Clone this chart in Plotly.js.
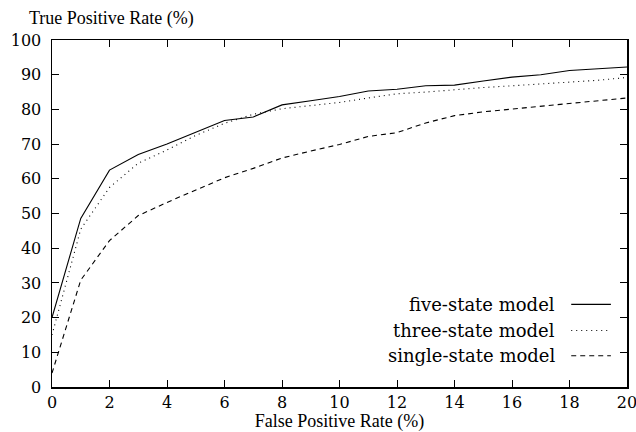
<!DOCTYPE html>
<html>
<head>
<meta charset="utf-8">
<script src="https://cdn.plot.ly/plotly-3.0.1.min.js"></script>
<style>html,body{margin:0;padding:0;background:#fff;}#chart{width:636px;height:432px;}</style>
</head>
<body>
<div id="chart"></div>
<script>
var fpr = [0,1,2,3,4,5,6,7,8,9,10,11,12,13,14,15,16,17,18,19,20];
var fiveState = [20,48.6,62.5,67,70,73.5,76.8,77.8,81.3,82.5,83.7,85.3,85.8,86.8,87,88.2,89.3,90,91.2,91.7,92.2];
var threeState = [15,45.5,57.5,64.5,68.3,72.5,76,78.6,80.2,81,82,83.3,84.5,85,85.7,86.3,86.8,87.3,87.8,88.4,89.2];
var singleState = [4,30.8,42.2,49.4,53.2,56.8,60.3,63,66,68,69.9,72.2,73.3,76.1,78.2,79.3,80.1,80.8,81.6,82.3,83.3];
var seriesNames = ["five-state model","three-state model","single-state model"];
var dashes = ["solid","1px,4px","5px,4px"];
var yTitle = "True Positive Rate (%)";
var xTitle = "False Positive Rate (%)";

var FONT = "DejaVu Serif";
var TFONT = "Liberation Serif";
var allY = [fiveState, threeState, singleState];
var traces = allY.map(function(ys, i){
  return {x: fpr, y: ys, type: 'scatter', mode: 'lines', name: seriesNames[i],
    line: {color: '#000', width: 1.1, dash: dashes[i]}, showlegend: false, hoverinfo: 'skip'};
});

var annotations = [], shapes = [];
var legY = [0.238, 0.163, 0.09];
seriesNames.forEach(function(n, i){
  annotations.push({xref:'paper', yref:'paper', x: 0.878, y: legY[i], xanchor:'right', yanchor:'middle',
    text: n, showarrow:false, font:{family:FONT, size:18, color:'#000'}});
  shapes.push({type:'line', xref:'paper', yref:'paper', x0:0.903, x1:0.972, y0:legY[i], y1:legY[i],
    line:{color:'#000', width:1.1, dash:dashes[i]}});
});
annotations.push({xref:'paper', yref:'paper', x:-0.0435, y:1.063, xanchor:'left', yanchor:'middle',
  text: yTitle, showarrow:false, font:{family:TFONT, size:18, color:'#000'}});

var axisCommon = {
  showgrid:false, zeroline:false, showline:true, linecolor:'#000', linewidth:1.5,
  mirror:'allticks', ticks:'inside', ticklen:7, tickwidth:1, tickcolor:'#000',
  tickfont:{family:FONT, size:16, color:'#000'}, fixedrange:true, ticklabeloverflow:'allow'
};

var layout = {
  width:636, height:432,
  margin:{l:52, r:9, t:40, b:45},
  paper_bgcolor:'#fff', plot_bgcolor:'#fff',
  font:{family:FONT, color:'#000', size:16},
  xaxis: Object.assign({}, axisCommon, {range:[0,20], dtick:2, tick0:0,
    title:{text:xTitle, font:{family:TFONT, size:18, color:'#000'}, standoff:1}}),
  yaxis: Object.assign({}, axisCommon, {range:[0,100], dtick:10, tick0:0, ticklabelstandoff:6}),
  annotations: annotations,
  shapes: shapes,
  showlegend:false
};
Plotly.newPlot('chart', traces, layout, {staticPlot:true, displayModeBar:false});
</script>
</body>
</html>
